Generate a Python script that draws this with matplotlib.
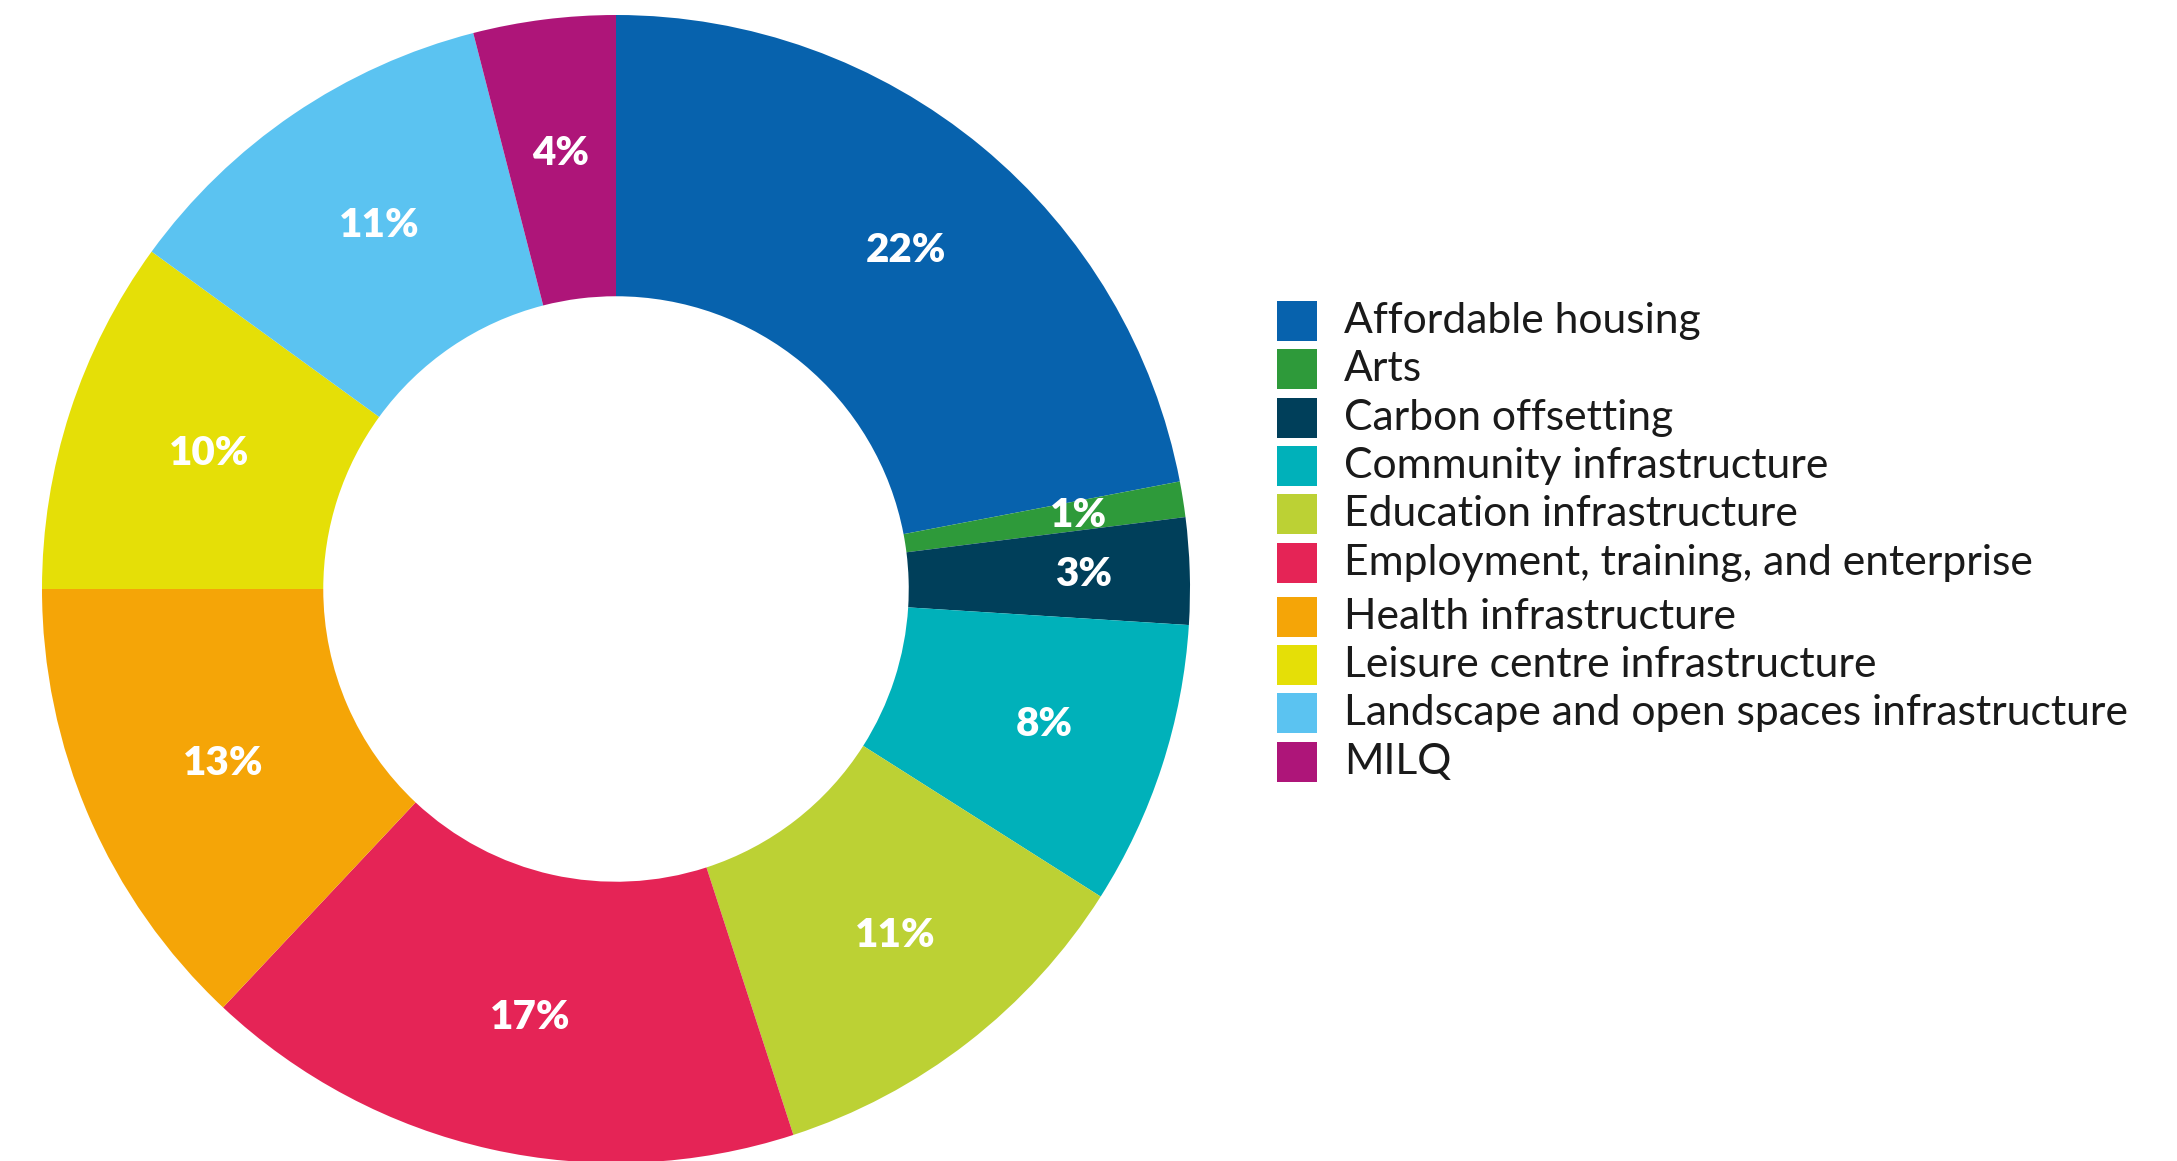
import matplotlib
matplotlib.use("Agg")
import matplotlib.pyplot as plt
from matplotlib.patches import Rectangle

categories = [
    "Affordable housing",
    "Arts",
    "Carbon offsetting",
    "Community infrastructure",
    "Education infrastructure",
    "Employment, training, and enterprise",
    "Health infrastructure",
    "Leisure centre infrastructure",
    "Landscape and open spaces infrastructure",
    "MILQ",
]
shares = [22, 1, 3, 8, 11, 17, 13, 10, 11, 4]
colors = [
    "#0762AD", "#2E9A3A", "#003F5A", "#00B1BA", "#BCD134",
    "#E52456", "#F5A507", "#E5DF07", "#5BC3F1", "#AE1579",
]

W, H = 2177, 1161
fig = plt.figure(figsize=(W / 100, H / 100), dpi=100)

# donut axes: a square box around the ring, in pixel units
cx, cy, R = 616, 589, 574
ax = fig.add_axes([(cx - R) / W, (H - cy - R) / H, 2 * R / W, 2 * R / H])

wedges, _, autotexts = ax.pie(
    shares,
    colors=colors,
    startangle=90,
    counterclock=False,
    radius=1.0,
    wedgeprops=dict(width=0.49, edgecolor="none", linewidth=0),
    autopct=lambda p: f"{p:.0f}%",
    pctdistance=0.765,
    textprops=dict(color="white", fontsize=29, fontweight="heavy", family="Lato"),
)
ax.set_xlim(-1, 1)
ax.set_ylim(-1, 1)
ax.axis("off")
for w in wedges:
    w.set_clip_on(False)

# push the labels of the two thin slices a bit further out,
# nudge the wider slices' labels slightly to the right
for i, t in enumerate(autotexts):
    x, y = t.get_position()
    if i in (1, 2):
        t.set_position((x * 0.815 / 0.765, y * 0.815 / 0.765))
    elif i != 9:
        t.set_position((x + 0.018, y))

# legend drawn as squares and labels in figure pixels
sq = 40
x0 = 1277
y0 = 321
step = 48.3
for i, (name, col) in enumerate(zip(categories, colors)):
    yc = y0 + i * step + (6 if i >= 6 else 0)
    fig.patches.append(Rectangle((x0 / W, (H - yc - sq / 2) / H), sq / W, sq / H,
                                 transform=fig.transFigure, facecolor=col,
                                 edgecolor="none"))
    fig.text((x0 + 67) / W, (H - yc) / H, name, fontsize=30.7, family="Lato",
             color="#1a1a1a", va="center", ha="left")

fig.savefig("out.png", dpi=100, facecolor="white")
